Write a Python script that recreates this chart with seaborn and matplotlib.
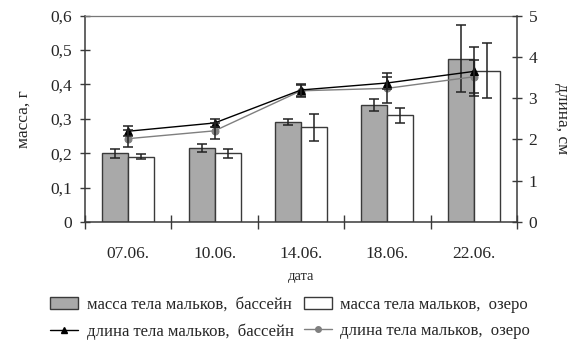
import matplotlib
matplotlib.use("Agg")
import matplotlib.pyplot as plt
import seaborn as sns
import pandas as pd
import numpy as np
from matplotlib.patches import Patch
from matplotlib.lines import Line2D
from matplotlib.ticker import FixedLocator, FuncFormatter

# ---- data ----
dates = ["07.06.", "10.06.", "14.06.", "18.06.", "22.06."]
mass_pool = [0.20, 0.215, 0.29, 0.34, 0.475]
mass_pool_err = [0.013, 0.012, 0.009, 0.018, 0.098]
mass_lake = [0.19, 0.20, 0.275, 0.31, 0.44]
mass_lake_err = [0.008, 0.013, 0.039, 0.021, 0.08]
len_pool = [2.2, 2.4, 3.2, 3.37, 3.65]
len_pool_err = [0.12, 0.1, 0.15, 0.15, 0.6]
len_lake = [2.02, 2.21, 3.18, 3.24, 3.52]
len_lake_err = [0.2, 0.2, 0.15, 0.36, 0.4]
bar_series = ["масса тела мальков,  бассейн", "масса тела мальков,  озеро"]
line_series = ["длина тела мальков,  бассейн", "длина тела мальков,  озеро"]
left_ticks = [0, 0.1, 0.2, 0.3, 0.4, 0.5, 0.6]
right_ticks = [0, 1, 2, 3, 4, 5]

sns.set_theme(style="white")
plt.rcParams["font.family"] = ["Liberation Serif", "DejaVu Serif"]

FS = 12.5
BAR_GRAY = "#a9a9a9"
EDGE = "#3a3a3a"

df = pd.DataFrame({
    "date": dates * 2,
    "mass": mass_pool + mass_lake,
    "series": [bar_series[0]] * len(dates) + [bar_series[1]] * len(dates),
})

fig = plt.figure(figsize=(5.81, 3.46), dpi=100)
ax = fig.add_axes([85 / 581, 1 - 222 / 346, (517 - 85) / 581, (222 - 15.7) / 346])

sns.barplot(data=df, x="date", y="mass", hue="series", order=dates,
            hue_order=bar_series, palette=[BAR_GRAY, "white"], width=0.6,
            edgecolor=EDGE, linewidth=1.0, errorbar=None, legend=False,
            saturation=1, ax=ax)

for cont, errs in zip(ax.containers, [mass_pool_err, mass_lake_err]):
    xs = [p.get_x() + p.get_width() / 2 for p in cont.patches]
    ys = [p.get_height() for p in cont.patches]
    ax.errorbar(xs, ys, yerr=errs, fmt="none", ecolor="#222222",
                elinewidth=1.1, capsize=3.5, capthick=1.1, zorder=5)

ax.set_xlim(-0.5, len(dates) - 0.5)
ax.set_ylim(0, 0.6)
ax.set_yticks(left_ticks)
ax.yaxis.set_major_formatter(FuncFormatter(lambda v, p: ("%g" % round(v, 1)).replace(".", ",")))
ax.set_xticks(range(len(dates)))
ax.set_xticklabels(dates)
ax.xaxis.set_minor_locator(FixedLocator(np.arange(len(dates) + 1) - 0.5))
ax.tick_params(axis="x", which="major", length=0, pad=17, labelsize=FS)
ax.tick_params(axis="x", which="minor", direction="inout", length=10, width=1, color=EDGE, bottom=True)
ax.tick_params(axis="y", which="major", direction="inout", length=6.5, width=1,
               color=EDGE, labelsize=FS, pad=6, left=True)
ax.set_xlabel("дата", fontsize=10.5, labelpad=6)
ax.set_ylabel("масса, г", fontsize=12.5)
ax.yaxis.set_label_coords((32 - 85) / 432, 0.5)

for s in ["left", "bottom"]:
    ax.spines[s].set_color(EDGE)
    ax.spines[s].set_linewidth(1.1)
ax.spines["top"].set_color("#777777")
ax.spines["top"].set_linewidth(0.9)
ax.spines["right"].set_visible(False)

ax2 = ax.twinx()
xpos = np.arange(len(dates))
sns.lineplot(x=xpos, y=len_pool, ax=ax2, color="black", marker="^",
             markersize=6, markeredgecolor="black", linewidth=1.0, zorder=4)
sns.lineplot(x=xpos, y=len_lake, ax=ax2, color="#7f7f7f", marker="o",
             markersize=5, markeredgecolor="#7f7f7f", linewidth=1.0, zorder=3)
ax2.errorbar(xpos, len_pool, yerr=len_pool_err, fmt="none", ecolor="#222222",
             elinewidth=1.1, capsize=3.5, capthick=1.1, zorder=5)
ax2.errorbar(xpos, len_lake, yerr=len_lake_err, fmt="none", ecolor="#222222",
             elinewidth=1.1, capsize=3.5, capthick=1.1, zorder=5)
ax2.set_ylim(0, 5)
ax2.set_xlim(-0.5, len(dates) - 0.5)
ax2.set_yticks(right_ticks)
ax2.tick_params(axis="y", direction="inout", length=6.5, width=1, color=EDGE,
                labelsize=FS, pad=5, right=True)
ax2.set_ylabel("длина, см", fontsize=12.5, rotation=-90, va="center")
ax2.yaxis.set_label_coords((562 - 85) / 432, 0.5)
for s in ["left", "top", "bottom"]:
    ax2.spines[s].set_visible(False)
ax2.spines["right"].set_color(EDGE)
ax2.spines["right"].set_linewidth(1.1)

handles = [
    Patch(facecolor=BAR_GRAY, edgecolor=EDGE, linewidth=1.0, label=bar_series[0]),
    Line2D([], [], color="black", marker="^", markersize=5, linewidth=1.0, label=line_series[0]),
    Patch(facecolor="white", edgecolor=EDGE, linewidth=1.0, label=bar_series[1]),
    Line2D([], [], color="#7f7f7f", marker="o", markersize=4, linewidth=1.0, label=line_series[1]),
]
fig.legend(handles=handles, ncol=2, loc="upper left",
           bbox_to_anchor=(50 / 581, 1 - 297 / 346), frameon=False,
           fontsize=12, handlelength=1.7, handletextpad=0.5, columnspacing=0.6,
           labelspacing=0.6, borderpad=0, borderaxespad=0)

fig.savefig("out.png", dpi=100)
